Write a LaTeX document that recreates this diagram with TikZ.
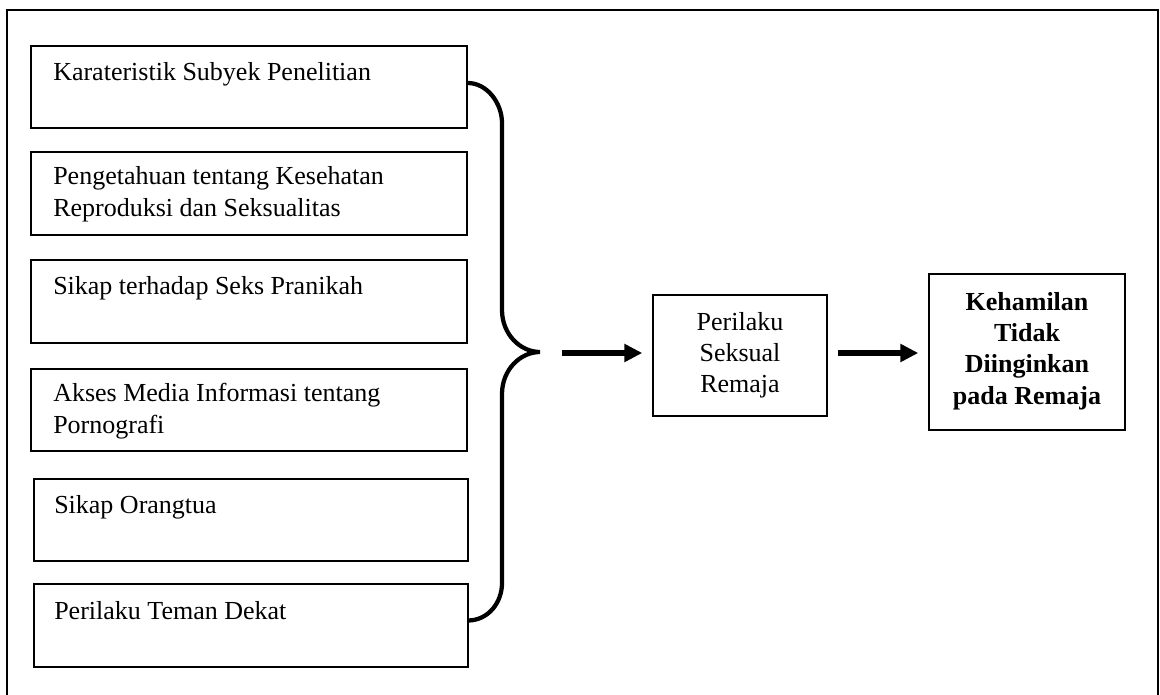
\documentclass[tikz,border=0pt]{standalone}
\usepackage{fontspec}
\setmainfont{Liberation Serif}
\usetikzlibrary{arrows.meta,calc,fit}
\begin{document}
\begin{tikzpicture}[x=0.75pt,y=-0.75pt,
  box/.style={draw,line width=1.1pt,inner sep=0pt},
  lbl/.style={anchor=base west,inner sep=0pt,align=left,font=\fontsize{19.5}{24}\selectfont},
  ctr/.style={anchor=base,inner sep=0pt,align=center,font=\fontsize{19.5}{23}\selectfont},
  arr/.style={line width=4pt,-{Triangle[length=13.5pt,width=13pt]}},
  brace/.style={line width=3.2pt}]
\useasboundingbox (0,0) rectangle (1160,695);
\draw[line width=2pt] (7,700) -- (7,10) -- (1158,10) -- (1158,700);
% left boxes
\node[box,fit={(31,46)(467,128)}] (b1) {};
\node[box,fit={(31,152)(467,235)}] (b2) {};
\node[box,fit={(31,260)(467,343)}] (b3) {};
\node[box,fit={(31,369)(467,451)}] (b4) {};
\node[box,fit={(34,479)(468,561)}] (b5) {};
\node[box,fit={(34,584)(468,667)}] (b6) {};
\node[lbl] (t1) at (53,81) {Karateristik Subyek Penelitian};
\node[lbl] (t2) at (53,217) {Pengetahuan tentang Kesehatan\\Reproduksi dan Seksualitas};
\node[lbl] (t3) at (53,295) {Sikap terhadap Seks Pranikah};
\node[lbl] (t4) at (53,433) {Akses Media Informasi tentang\\Pornografi};
\node[lbl] (t5) at (54,513) {Sikap Orangtua};
\node[lbl] (t6) at (54,619) {Perilaku Teman Dekat};
% middle and result
\node[box,fit={(653,295)(827,416)}] (mid) {};
\node[ctr] (midt) at (740,392) {Perilaku\\Seksual\\Remaja};
\node[box,fit={(929,274)(1125,430)}] (res) {};
\node[ctr,font=\fontsize{19.5}{23.5}\selectfont\bfseries] (rest) at (1027,404) {Kehamilan\\Tidak\\Diinginkan\\pada Remaja};
% brace
\coordinate (tip) at (540,352);
\draw[brace] ($(b1.east)+(0,-4)$) .. controls (487,83) and (502,103) .. (502,123)
  -- (502,310) .. controls (502,334) and (520,352) .. (tip)
  .. controls (520,352) and (502,370) .. (502,394)
  -- (502,583) .. controls (502,603) and (488,620) .. ($(b6.east)+(0,-5)$);
% arrows
\coordinate (a1s) at (562,353);
\draw[arr] (a1s) -- ($(a1s -| mid.west)+(-10,0)$);
\draw[arr] ($(a1s -| mid.east)+(10,0)$) -- ($(a1s -| res.west)+(-10,0)$);
\end{tikzpicture}
\end{document}
